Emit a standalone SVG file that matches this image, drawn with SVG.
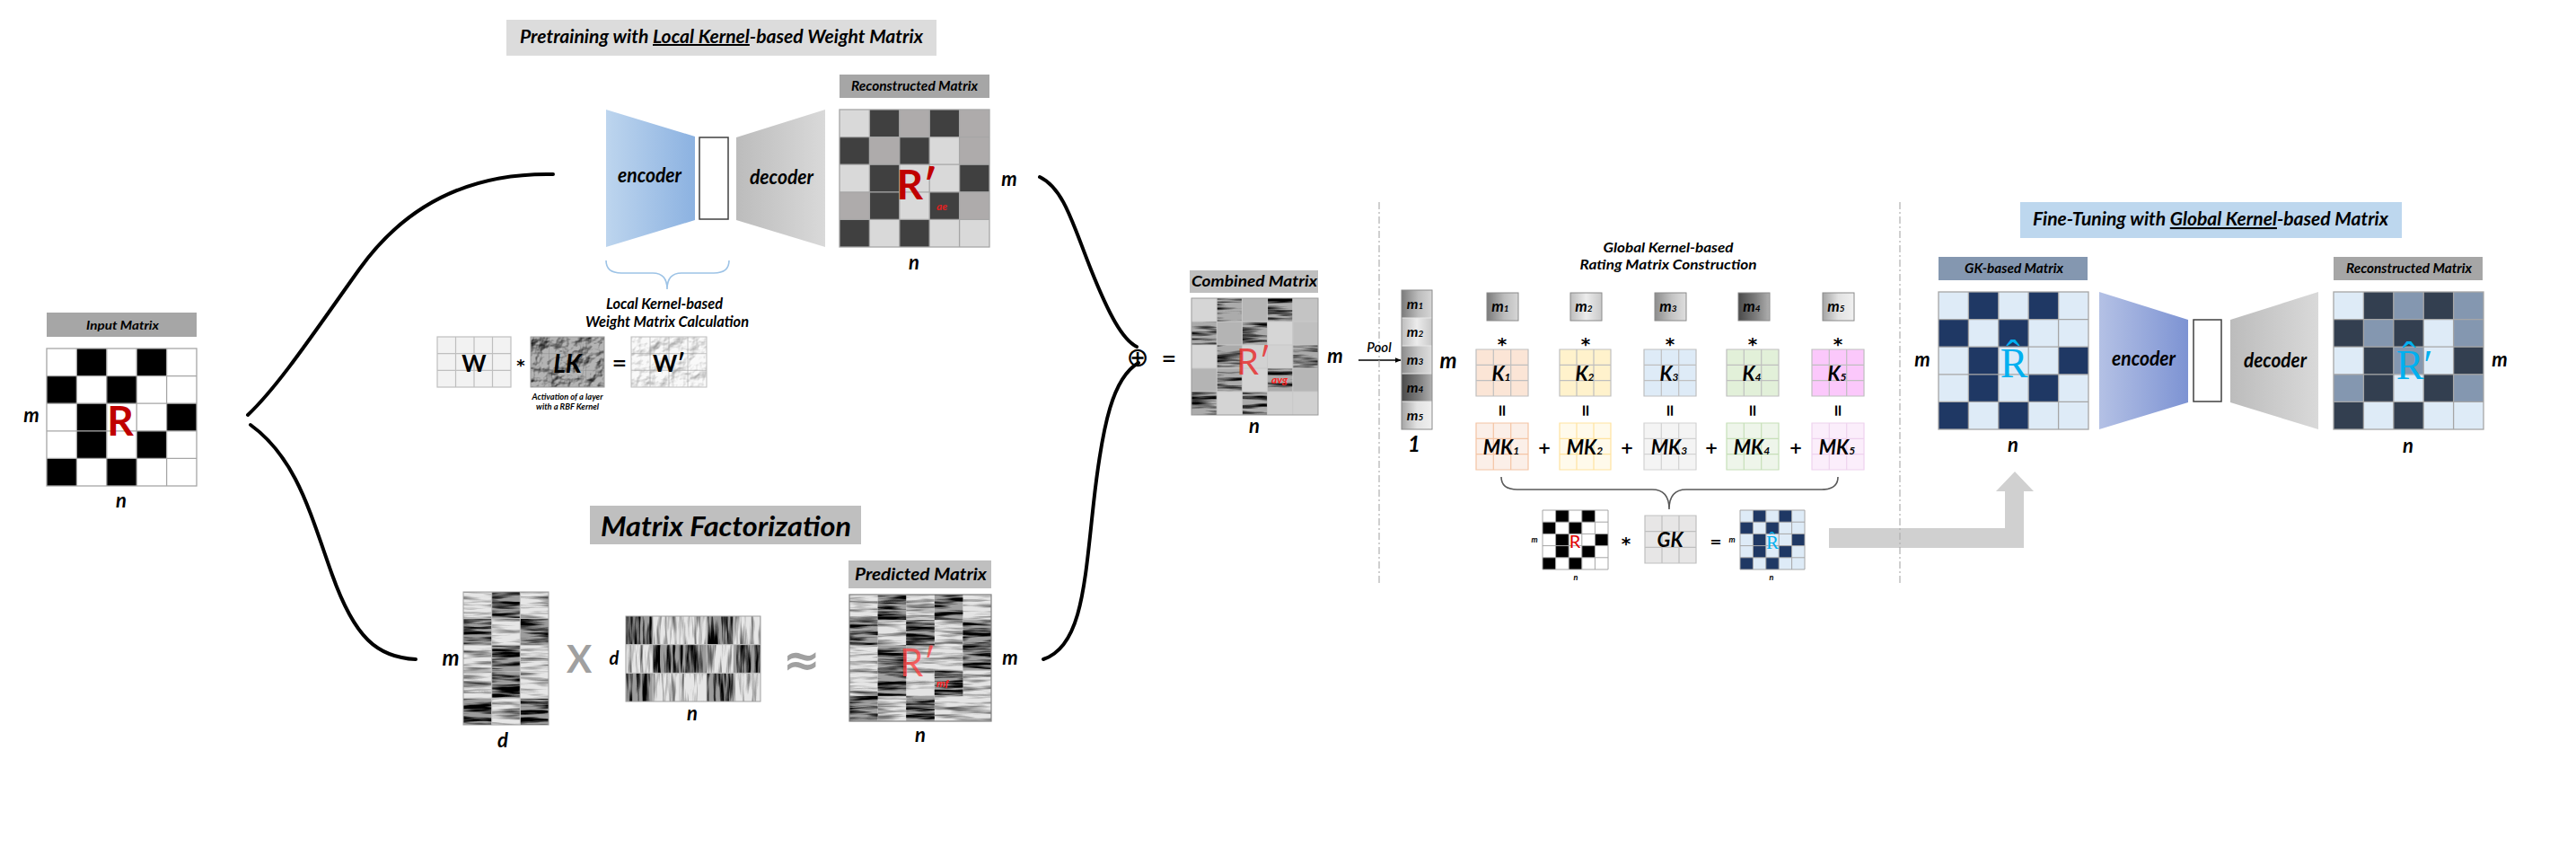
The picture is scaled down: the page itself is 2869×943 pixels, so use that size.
<svg xmlns="http://www.w3.org/2000/svg" width="2869" height="943" viewBox="0 0 2869 943">
<defs>
<style>
text{font-family:Lato,"Liberation Sans",sans-serif;font-weight:bold;font-style:italic;fill:#000;text-anchor:middle}
.up{font-style:normal}
.dim{font-size:22px}
.gl{fill:none;stroke:#a6a6a6;stroke-width:1.3}
.gk{fill:none;stroke:#bfbfbf;stroke-width:1.2}
.cv{fill:none;stroke:#000;stroke-width:4;stroke-linecap:round}
.lab{fill:#a6a6a6}
.labg{fill:#bfbfbf}
.rec{stroke:#8a8a8a;stroke-width:1}
.L1{fill:#d9d9d9}.D1{fill:#404040}.M1{fill:#aeabab}
.L2{fill:#deebf7}.D2{fill:#1f3864}.D3{fill:#333f50}.M3{fill:#8497b0}
.op{font-style:normal;font-family:"DejaVu Sans",sans-serif;font-weight:bold}
.ser{font-style:normal;font-family:"Liberation Serif","DejaVu Serif",serif;font-weight:normal;fill:#00b0f0}
.sub{font-style:italic;font-weight:bold;text-anchor:start}
</style>
<linearGradient id="encA" x1="0" x2="1"><stop offset="0" stop-color="#bdd5ee"/><stop offset="1" stop-color="#8cb2e1"/></linearGradient>
<linearGradient id="encB" x1="0" x2="1"><stop offset="0" stop-color="#b4c1e5"/><stop offset="1" stop-color="#7d93d3"/></linearGradient>
<linearGradient id="dec" x1="0" x2="1"><stop offset="0" stop-color="#bcbcbc"/><stop offset="1" stop-color="#d9d9d9"/></linearGradient>
<linearGradient id="g1" x1="0" x2="1"><stop offset="0" stop-color="#7a7a7a"/><stop offset="0.55" stop-color="#bcbcbc"/><stop offset="1" stop-color="#d6d6d6"/></linearGradient>
<linearGradient id="g2" x1="0" x2="1"><stop offset="0" stop-color="#bdbdbd"/><stop offset="0.5" stop-color="#ececec"/><stop offset="1" stop-color="#c8c8c8"/></linearGradient>
<linearGradient id="g3" x1="0" x2="1"><stop offset="0" stop-color="#8c8c8c"/><stop offset="0.55" stop-color="#c4c4c4"/><stop offset="1" stop-color="#dedede"/></linearGradient>
<linearGradient id="g4" x1="0" x2="1"><stop offset="0" stop-color="#4a4a4a"/><stop offset="0.55" stop-color="#7c7c7c"/><stop offset="1" stop-color="#b0b0b0"/></linearGradient>
<linearGradient id="g5" x1="0" x2="1"><stop offset="0" stop-color="#a4a4a4"/><stop offset="0.5" stop-color="#e2e2e2"/><stop offset="1" stop-color="#f0f0f0"/></linearGradient>
<filter id="nzH" x="0" y="0" width="1" height="1" color-interpolation-filters="sRGB">
<feTurbulence type="fractalNoise" baseFrequency="0.02 0.22" numOctaves="3" seed="5" result="t"/>
<feColorMatrix in="t" type="matrix" values="0 0 0 0 0 0 0 0 0 0 0 0 0 0 0 -3.6 0 0 0 2.2" result="a"/>
<feComposite in="a" in2="SourceGraphic" operator="in" result="d"/>
<feMerge><feMergeNode in="SourceGraphic"/><feMergeNode in="d"/></feMerge>
</filter>
<filter id="nzHc" x="0" y="0" width="1" height="1" color-interpolation-filters="sRGB">
<feTurbulence type="fractalNoise" baseFrequency="0.02 0.22" numOctaves="3" seed="6" result="t"/>
<feColorMatrix in="t" type="matrix" values="0 0 0 0 0 0 0 0 0 0 0 0 0 0 0 -3 0 0 0 1.75" result="a"/>
<feComposite in="a" in2="SourceGraphic" operator="in" result="d"/>
<feMerge><feMergeNode in="SourceGraphic"/><feMergeNode in="d"/></feMerge>
</filter>
<filter id="nzHl" x="0" y="0" width="1" height="1" color-interpolation-filters="sRGB">
<feTurbulence type="fractalNoise" baseFrequency="0.02 0.22" numOctaves="3" seed="8" result="t"/>
<feColorMatrix in="t" type="matrix" values="0 0 0 0 0 0 0 0 0 0 0 0 0 0 0 -1.6 0 0 0 0.9" result="a"/>
<feComposite in="a" in2="SourceGraphic" operator="in" result="d"/>
<feMerge><feMergeNode in="SourceGraphic"/><feMergeNode in="d"/></feMerge>
</filter>
<filter id="nzV" x="0" y="0" width="1" height="1" color-interpolation-filters="sRGB">
<feTurbulence type="fractalNoise" baseFrequency="0.22 0.02" numOctaves="3" seed="3" result="t"/>
<feColorMatrix in="t" type="matrix" values="0 0 0 0 0 0 0 0 0 0 0 0 0 0 0 -3.6 0 0 0 2.2" result="a"/>
<feComposite in="a" in2="SourceGraphic" operator="in" result="d"/>
<feMerge><feMergeNode in="SourceGraphic"/><feMergeNode in="d"/></feMerge>
</filter>
<filter id="nzVl" x="0" y="0" width="1" height="1" color-interpolation-filters="sRGB">
<feTurbulence type="fractalNoise" baseFrequency="0.22 0.02" numOctaves="3" seed="11" result="t"/>
<feColorMatrix in="t" type="matrix" values="0 0 0 0 0 0 0 0 0 0 0 0 0 0 0 -1.6 0 0 0 0.9" result="a"/>
<feComposite in="a" in2="SourceGraphic" operator="in" result="d"/>
<feMerge><feMergeNode in="SourceGraphic"/><feMergeNode in="d"/></feMerge>
</filter>
<filter id="crum" x="0" y="0" width="1" height="1" color-interpolation-filters="sRGB">
<feTurbulence type="fractalNoise" baseFrequency="0.06" numOctaves="4" seed="9" result="t"/>
<feDiffuseLighting in="t" surfaceScale="5" diffuseConstant="1.2" lighting-color="#ffffff" result="l"><feDistantLight azimuth="235" elevation="50"/></feDiffuseLighting>
<feComposite in="l" in2="SourceGraphic" operator="arithmetic" k1="1" k2="0" k3="0" k4="0" result="m"/>
<feComposite in="m" in2="SourceGraphic" operator="in"/>
</filter>
<filter id="crumL" x="0" y="0" width="1" height="1" color-interpolation-filters="sRGB">
<feTurbulence type="fractalNoise" baseFrequency="0.06" numOctaves="4" seed="4" result="t"/>
<feDiffuseLighting in="t" surfaceScale="4" diffuseConstant="1.2" lighting-color="#ffffff" result="l"><feDistantLight azimuth="235" elevation="50"/></feDiffuseLighting>
<feComposite in="l" in2="SourceGraphic" operator="arithmetic" k1="0.45" k2="0" k3="0" k4="0.45" result="m"/>
<feComposite in="m" in2="SourceGraphic" operator="in"/>
</filter>
<marker id="ah" viewBox="0 0 10 10" refX="9" refY="5" markerWidth="7" markerHeight="7" orient="auto" markerUnits="userSpaceOnUse"><path d="M0,1 L10,5 L0,9 Z" fill="#000"/></marker>
</defs>
<rect width="2869" height="943" fill="#fff"/>

<g id="connectors">
<path class="cv" d="M616,194 C520,192 450,230 400,300 C350,370 310,430 276,462"/>
<path class="cv" d="M279,473 C330,510 345,570 370,640 C395,710 420,732 463,734"/>
<path class="cv" d="M1158,197 C1185,210 1195,250 1215,300 C1235,350 1250,378 1266,386"/>
<path class="cv" d="M1268,404 C1240,420 1228,470 1218,560 C1208,650 1205,720 1162,734"/>
<line x1="1513" y1="401" x2="1560" y2="401" stroke="#000" stroke-width="1.4" marker-end="url(#ah)"/>
<polygon points="2037,588 2233,588 2233,547 2223,547 2244,525 2265,547 2254,547 2254,610 2037,610" fill="#d0d0d0"/>
<path d="M675,290 Q675,304 692,304 L727,304 Q743,304 743,322 Q743,304 759,304 L795,304 Q812,304 812,290" fill="none" stroke="#9dc3e6" stroke-width="1.6"/>
<path d="M1672,531 Q1672,545 1690,545 L1840,545 Q1859,545 1859,567 Q1859,545 1878,545 L2029,545 Q2047,545 2047,531" fill="none" stroke="#595959" stroke-width="1.6"/>
<line x1="1536" y1="225" x2="1536" y2="650" stroke="#b0b0b0" stroke-width="1.2" stroke-dasharray="8 3 2 3"/>
<line x1="2116" y1="225" x2="2116" y2="650" stroke="#b0b0b0" stroke-width="1.2" stroke-dasharray="8 3 2 3"/>
</g>

<g id="input-matrix">
<rect class="lab" x="52" y="348" width="167" height="27"/>
<text x="136.5" y="367" font-size="14" textLength="81" lengthAdjust="spacingAndGlyphs">Input Matrix</text>
<rect x="52" y="388" width="167" height="153" fill="#fff"/>
<g fill="#000">
<rect x="85.4" y="388" width="33.4" height="30.6"/><rect x="152.2" y="388" width="33.4" height="30.6"/>
<rect x="52" y="418.6" width="33.4" height="30.6"/><rect x="118.8" y="418.6" width="33.4" height="30.6"/>
<rect x="85.4" y="449.2" width="33.4" height="30.6"/><rect x="185.6" y="449.2" width="33.4" height="30.6"/>
<rect x="85.4" y="479.8" width="33.4" height="30.6"/><rect x="152.2" y="479.8" width="33.4" height="30.6"/>
<rect x="52" y="510.4" width="33.4" height="30.6"/><rect x="118.8" y="510.4" width="33.4" height="30.6"/>
</g>
<path class="gl" d="M85.4,388V541M118.8,388V541M152.2,388V541M185.6,388V541M52,418.6H219M52,449.2H219M52,479.8H219M52,510.4H219"/>
<rect class="gl" x="52" y="388" width="167" height="153"/>
<text class="up" x="134" y="485" font-size="46" style="fill:#c00000">R</text>
<text class="dim" x="35" y="470">m</text>
<text class="dim" x="135" y="565">n</text>
</g>

<g id="pretrain-title">
<rect x="564" y="22" width="479" height="40" fill="#dcdcdc"/>
<text x="803.5" y="48" font-size="20" textLength="449" lengthAdjust="spacingAndGlyphs">Pretraining with <tspan text-decoration="underline">Local Kernel</tspan>-based Weight Matrix</text>
</g>

<g id="autoencoder-top">
<polygon points="675,122 774,152 774,245 675,275" fill="url(#encA)"/>
<text x="723.5" y="203" font-size="22" textLength="71" lengthAdjust="spacingAndGlyphs">encoder</text>
<rect x="779" y="153" width="32" height="91" fill="#fff" stroke="#404040" stroke-width="1.5"/>
<polygon points="820,153 919,122 919,275 820,245" fill="url(#dec)"/>
<text x="870.5" y="205" font-size="22" textLength="71" lengthAdjust="spacingAndGlyphs">decoder</text>
</g>

<g id="recon-top">
<rect class="lab" x="935" y="83" width="167" height="26"/>
<text x="1018.5" y="101" font-size="15" textLength="141" lengthAdjust="spacingAndGlyphs">Reconstructed Matrix</text>
<g>
<rect class="L1" x="935" y="122" width="33.4" height="30.6"/><rect class="D1" x="968.4" y="122" width="33.4" height="30.6"/><rect class="M1" x="1001.8" y="122" width="33.4" height="30.6"/><rect class="D1" x="1035.2" y="122" width="33.4" height="30.6"/><rect class="M1" x="1068.6" y="122" width="33.4" height="30.6"/>
<rect class="D1" x="935" y="152.6" width="33.4" height="30.6"/><rect class="M1" x="968.4" y="152.6" width="33.4" height="30.6"/><rect class="D1" x="1001.8" y="152.6" width="33.4" height="30.6"/><rect class="L1" x="1035.2" y="152.6" width="33.4" height="30.6"/><rect class="M1" x="1068.6" y="152.6" width="33.4" height="30.6"/>
<rect class="L1" x="935" y="183.2" width="33.4" height="30.6"/><rect class="D1" x="968.4" y="183.2" width="33.4" height="30.6"/><rect class="L1" x="1001.8" y="183.2" width="33.4" height="30.6"/><rect class="L1" x="1035.2" y="183.2" width="33.4" height="30.6"/><rect class="D1" x="1068.6" y="183.2" width="33.4" height="30.6"/>
<rect class="M1" x="935" y="213.8" width="33.4" height="30.6"/><rect class="D1" x="968.4" y="213.8" width="33.4" height="30.6"/><rect class="L1" x="1001.8" y="213.8" width="33.4" height="30.6"/><rect class="D1" x="1035.2" y="213.8" width="33.4" height="30.6"/><rect class="M1" x="1068.6" y="213.8" width="33.4" height="30.6"/>
<rect class="D1" x="935" y="244.4" width="33.4" height="30.6"/><rect class="L1" x="968.4" y="244.4" width="33.4" height="30.6"/><rect class="D1" x="1001.8" y="244.4" width="33.4" height="30.6"/><rect class="L1" x="1035.2" y="244.4" width="33.4" height="30.6"/><rect class="L1" x="1068.6" y="244.4" width="33.4" height="30.6"/>
</g>
<path class="gl" d="M968.4,122V275M1001.8,122V275M1035.2,122V275M1068.6,122V275M935,152.6H1102M935,183.2H1102M935,213.8H1102M935,244.4H1102"/>
<rect class="gl" x="935" y="122" width="167" height="153"/>
<text class="up" x="1021" y="222" font-size="46" style="fill:#c00000">R′</text>
<text class="sub" x="1043" y="234" font-size="12" style="fill:#e02020">ae</text>
<text class="dim" x="1124" y="207">m</text>
<text class="dim" x="1018" y="300">n</text>
</g>

<g id="local-kernel">
<text x="740" y="344" font-size="17" textLength="130" lengthAdjust="spacingAndGlyphs">Local Kernel-based</text>
<text x="743" y="364" font-size="17" textLength="182" lengthAdjust="spacingAndGlyphs">Weight Matrix Calculation</text>
<rect x="487" y="375" width="82" height="56" fill="#f2f2f2"/>
<path class="gk" d="M507.5,375V431M528,375V431M548.5,375V431M487,393.7H569M487,412.3H569"/>
<rect class="gk" x="487" y="375" width="82" height="56"/>
<text class="up" x="528" y="414" font-size="26">W</text>
<text class="op" x="580" y="413" font-size="18">*</text>
<rect x="591" y="375" width="82" height="56" fill="#b4b4b4" filter="url(#crum)"/>
<path d="M611.5,375V431M632,375V431M652.5,375V431M591,393.7H673M591,412.3H673" stroke="#777" stroke-opacity="0.35" fill="none"/>
<rect x="591" y="375" width="82" height="56" fill="none" stroke="#9a9a9a"/>
<text x="632" y="415" font-size="28">LK</text>
<text class="op" x="690" y="411" font-size="20">=</text>
<rect x="703" y="375" width="84" height="56" fill="#f2f2f2" filter="url(#crumL)"/>
<path d="M724,375V431M745,375V431M766,375V431M703,393.7H787M703,412.3H787" stroke="#a0a0a0" stroke-opacity="0.6" fill="none"/>
<rect x="703" y="375" width="84" height="56" fill="none" stroke="#bdbdbd"/>
<text class="up" x="745" y="414" font-size="26">W′</text>
<text x="632" y="445" font-size="10" textLength="79" lengthAdjust="spacingAndGlyphs">Activation of a layer</text>
<text x="632" y="456" font-size="10" textLength="70" lengthAdjust="spacingAndGlyphs">with a RBF Kernel</text>
</g>

<g id="matrix-factorization">
<rect class="labg" x="657" y="563" width="302" height="43"/>
<text x="808.5" y="597" font-size="31" textLength="279" lengthAdjust="spacingAndGlyphs">Matrix Factorization</text>
<g filter="url(#nzHl)" fill="#e6e6e6">
<rect x="516" y="659" width="31.7" height="29.6"/><rect x="579.3" y="659" width="31.7" height="29.6"/>
<rect x="547.7" y="688.6" width="31.6" height="29.6"/>
<rect x="516" y="718.2" width="31.7" height="59.2"/><rect x="579.3" y="718.2" width="31.7" height="59.2"/>
<rect x="547.7" y="777.4" width="31.6" height="29.6"/>
</g>
<g filter="url(#nzH)" fill="#9c9c9c">
<rect x="547.7" y="659" width="31.6" height="29.6"/>
<rect x="516" y="688.6" width="31.7" height="29.6"/><rect x="579.3" y="688.6" width="31.7" height="29.6"/>
<rect x="547.7" y="718.2" width="31.6" height="59.2"/>
<rect x="516" y="777.4" width="31.7" height="29.6"/><rect x="579.3" y="777.4" width="31.7" height="29.6"/>
</g>
<path d="M547.7,659V807M579.3,659V807M516,688.6H611M516,718.2H611M516,747.8H611M516,777.4H611" stroke="#c0c0c0" stroke-width="1" fill="none"/>
<rect x="516" y="659" width="95" height="148" fill="none" stroke="#a0a0a0"/>
<text x="502" y="741" font-size="24">m</text>
<text class="dim" x="560" y="832">d</text>
<text class="up" x="645" y="749" font-size="42" style="fill:#a0a0a0">X</text>
<text x="684" y="740" font-size="20">d</text>
<g filter="url(#nzVl)" fill="#e6e6e6">
<rect x="727" y="686" width="60" height="31.67"/><rect x="817" y="686" width="30" height="31.67"/>
<rect x="697" y="717.67" width="30" height="31.66"/><rect x="787" y="717.67" width="30" height="31.66"/>
<rect x="727" y="749.33" width="60" height="31.67"/><rect x="817" y="749.33" width="30" height="31.67"/>
</g>
<g filter="url(#nzV)" fill="#9c9c9c">
<rect x="697" y="686" width="30" height="31.67"/><rect x="787" y="686" width="30" height="31.67"/>
<rect x="727" y="717.67" width="60" height="31.66"/><rect x="817" y="717.67" width="30" height="31.66"/>
<rect x="697" y="749.33" width="30" height="31.67"/><rect x="787" y="749.33" width="30" height="31.67"/>
</g>
<path d="M727,686V781M757,686V781M787,686V781M817,686V781M697,717.67H847M697,749.33H847" stroke="#c0c0c0" stroke-width="1" fill="none"/>
<rect x="697" y="686" width="150" height="95" fill="none" stroke="#a0a0a0"/>
<text class="dim" x="771" y="802">n</text>
<text class="op" x="893" y="752" font-size="50" style="fill:#a0a0a0">≈</text>
</g>

<g id="predicted-matrix">
<rect class="labg" x="945" y="624" width="159" height="31"/>
<text x="1025.5" y="646" font-size="19" textLength="147" lengthAdjust="spacingAndGlyphs">Predicted Matrix</text>
<g filter="url(#nzHl)" fill="#e4e4e4">
<rect x="946" y="662" width="31.6" height="28.2"/><rect x="1009.2" y="662" width="31.6" height="28.2"/><rect x="1072.4" y="662" width="31.6" height="28.2"/>
<rect x="977.6" y="690.2" width="31.6" height="28.2"/><rect x="1040.8" y="690.2" width="31.6" height="28.2"/>
<rect x="946" y="718.4" width="31.6" height="28.2"/><rect x="1009.2" y="718.4" width="63.2" height="28.2"/>
<rect x="946" y="746.6" width="31.6" height="28.2"/><rect x="1009.2" y="746.6" width="31.6" height="28.2"/><rect x="1072.4" y="746.6" width="31.6" height="28.2"/>
<rect x="977.6" y="774.8" width="31.6" height="28.2"/><rect x="1040.8" y="774.8" width="63.2" height="28.2"/>
</g>
<g filter="url(#nzH)" fill="#a0a0a0">
<rect x="977.6" y="662" width="31.6" height="28.2"/><rect x="1040.8" y="662" width="31.6" height="28.2"/>
<rect x="946" y="690.2" width="31.6" height="28.2"/><rect x="1009.2" y="690.2" width="31.6" height="28.2"/><rect x="1072.4" y="690.2" width="31.6" height="28.2"/>
<rect x="977.6" y="718.4" width="31.6" height="28.2"/><rect x="1072.4" y="718.4" width="31.6" height="28.2"/>
<rect x="977.6" y="746.6" width="31.6" height="28.2"/><rect x="1040.8" y="746.6" width="31.6" height="28.2"/>
<rect x="946" y="774.8" width="31.6" height="28.2"/><rect x="1009.2" y="774.8" width="31.6" height="28.2"/>
</g>
<rect x="946" y="662" width="158" height="141" fill="none" stroke="#808080" stroke-width="1.2"/>
<text class="up" x="1022" y="753" font-size="42" style="fill:#ff3b3b;font-weight:normal" fill-opacity="0.75">R′</text>
<text class="sub" x="1043" y="765" font-size="12" style="fill:#ff2020">mf</text>
<text class="dim" x="1125" y="740">m</text>
<text class="dim" x="1025" y="826">n</text>
</g>

<g id="combine-op">
<text class="op" x="1267" y="408" font-size="30" style="font-weight:normal">⊕</text>
<text class="op" x="1302" y="406" font-size="20">=</text>
</g>

<g id="combined-matrix">
<rect class="labg" x="1325" y="301" width="143" height="25"/>
<text x="1397" y="319" font-size="17" textLength="140" lengthAdjust="spacingAndGlyphs">Combined Matrix</text>
<g>
<rect x="1327" y="332" width="141" height="130" fill="#c8c8c8"/>
<rect x="1327" y="332" width="28.2" height="26" fill="#d6d6d6"/><rect x="1383.4" y="332" width="28.2" height="26" fill="#b6b6b6"/><rect x="1439.8" y="332" width="28.2" height="26" fill="#c4c4c4"/>
<rect x="1355.2" y="358" width="28.2" height="26" fill="#b4b4b4"/><rect x="1411.6" y="358" width="28.2" height="26" fill="#d6d6d6"/><rect x="1439.8" y="358" width="28.2" height="26" fill="#c0c0c0"/>
<rect x="1327" y="384" width="28.2" height="26" fill="#d6d6d6"/><rect x="1383.4" y="384" width="56.4" height="26" fill="#d2d2d2"/>
<rect x="1327" y="410" width="28.2" height="26" fill="#b4b4b4"/><rect x="1383.4" y="410" width="28.2" height="26" fill="#d4d4d4"/><rect x="1439.8" y="410" width="28.2" height="26" fill="#b6b6b6"/>
<rect x="1355.2" y="436" width="28.2" height="26" fill="#d4d4d4"/><rect x="1411.6" y="436" width="56.4" height="26" fill="#d0d0d0"/>
</g>
<g filter="url(#nzHc)" fill="#ababab">
<rect x="1355.2" y="332" width="28.2" height="26"/><rect x="1411.6" y="332" width="28.2" height="26"/>
<rect x="1327" y="358" width="28.2" height="26"/><rect x="1383.4" y="358" width="28.2" height="26"/>
<rect x="1355.2" y="384" width="28.2" height="26"/><rect x="1439.8" y="384" width="28.2" height="26"/>
<rect x="1355.2" y="410" width="28.2" height="26"/><rect x="1411.6" y="410" width="28.2" height="26"/>
<rect x="1327" y="436" width="28.2" height="26"/><rect x="1383.4" y="436" width="28.2" height="26"/>
</g>
<path d="M1355.2,332V462M1383.4,332V462M1411.6,332V462M1439.8,332V462M1327,358H1468M1327,384H1468M1327,410H1468M1327,436H1468" stroke="#c8c8c8" stroke-width="1" fill="none"/>
<rect x="1327" y="332" width="141" height="130" fill="none" stroke="#9a9a9a"/>
<text class="up" x="1396" y="417" font-size="40" style="fill:#e83030;font-weight:normal" fill-opacity="0.85">R′</text>
<text class="sub" x="1416" y="427" font-size="12" style="fill:#ff2020">avg</text>
<text class="dim" x="1487" y="404">m</text>
<text class="dim" x="1397" y="482">n</text>
<text x="1536" y="392" font-size="15" style="font-weight:600">Pool</text>
</g>

<g id="pooled-vector">
<rect x="1561" y="323" width="34" height="31" fill="url(#g1)"/>
<rect x="1561" y="354" width="34" height="31" fill="url(#g2)"/>
<rect x="1561" y="385" width="34" height="31" fill="url(#g3)"/>
<rect x="1561" y="416" width="34" height="31" fill="url(#g4)"/>
<rect x="1561" y="447" width="34" height="31" fill="url(#g5)"/>
<path d="M1561,354H1595M1561,385H1595M1561,416H1595M1561,447H1595" stroke="#e8e8e8" stroke-width="1.2"/>
<rect x="1561" y="323" width="34" height="155" fill="none" stroke="#8a8a8a"/>
<text x="1576" y="344" font-size="16">m<tspan font-size="10">1</tspan></text>
<text x="1576" y="375" font-size="16">m<tspan font-size="10">2</tspan></text>
<text x="1576" y="406" font-size="16">m<tspan font-size="10">3</tspan></text>
<text x="1576" y="437" font-size="16">m<tspan font-size="10">4</tspan></text>
<text x="1576" y="468" font-size="16">m<tspan font-size="10">5</tspan></text>
<text x="1613" y="410" font-size="24">m</text>
<text x="1575" y="503" font-size="24">1</text>
</g>

<g id="global-kernel">
<text x="1858" y="281" font-size="16" textLength="145" lengthAdjust="spacingAndGlyphs">Global Kernel-based</text>
<text x="1858" y="300" font-size="16" textLength="197" lengthAdjust="spacingAndGlyphs">Rating Matrix Construction</text>
<g class="rec">
<rect x="1656" y="326" width="35" height="31" fill="url(#g1)"/>
<rect x="1749" y="326" width="35" height="31" fill="url(#g2)"/>
<rect x="1843" y="326" width="35" height="31" fill="url(#g3)"/>
<rect x="1936" y="326" width="35" height="31" fill="url(#g4)"/>
<rect x="2030" y="326" width="35" height="31" fill="url(#g5)"/>
</g>
<text x="1671" y="347" font-size="17">m<tspan font-size="10">1</tspan></text>
<text x="1764" y="347" font-size="17">m<tspan font-size="10">2</tspan></text>
<text x="1858" y="347" font-size="17">m<tspan font-size="10">3</tspan></text>
<text x="1951" y="347" font-size="17">m<tspan font-size="10">4</tspan></text>
<text x="2045" y="347" font-size="17">m<tspan font-size="10">5</tspan></text>
<text class="op" x="1673" y="390" font-size="20">*</text><text class="op" x="1766" y="390" font-size="20">*</text><text class="op" x="1860" y="390" font-size="20">*</text><text class="op" x="1952" y="390" font-size="20">*</text><text class="op" x="2047" y="390" font-size="20">*</text>
<rect x="1644" y="389" width="58" height="52" fill="#fbe5d6"/>
<rect x="1737" y="389" width="57" height="52" fill="#fff2cc"/>
<rect x="1831" y="389" width="58" height="52" fill="#deebf7"/>
<rect x="1923" y="389" width="58" height="52" fill="#e2f0d9"/>
<rect x="2018" y="389" width="58" height="52" fill="#fbc8fb"/>
<path class="gk" d="M1644,389h58v52h-58zM1663.3,389v52M1682.7,389v52M1644,406.3h58M1644,423.7h58
M1737,389h57v52h-57zM1756,389v52M1775,389v52M1737,406.3h57M1737,423.7h57
M1831,389h58v52h-58zM1850.3,389v52M1869.7,389v52M1831,406.3h58M1831,423.7h58
M1923,389h58v52h-58zM1942.3,389v52M1961.7,389v52M1923,406.3h58M1923,423.7h58
M2018,389h58v52h-58zM2037.3,389v52M2056.7,389v52M2018,406.3h58M2018,423.7h58"/>
<text x="1672" y="424" font-size="22">K<tspan font-size="12">1</tspan></text>
<text x="1765" y="424" font-size="22">K<tspan font-size="12">2</tspan></text>
<text x="1859" y="424" font-size="22">K<tspan font-size="12">3</tspan></text>
<text x="1951" y="424" font-size="22">K<tspan font-size="12">4</tspan></text>
<text x="2046" y="424" font-size="22">K<tspan font-size="12">5</tspan></text>
<text class="op" transform="translate(1673,457) rotate(90)" x="0" y="6" font-size="18">=</text>
<text class="op" transform="translate(1766,457) rotate(90)" x="0" y="6" font-size="18">=</text>
<text class="op" transform="translate(1860,457) rotate(90)" x="0" y="6" font-size="18">=</text>
<text class="op" transform="translate(1952,457) rotate(90)" x="0" y="6" font-size="18">=</text>
<text class="op" transform="translate(2047,457) rotate(90)" x="0" y="6" font-size="18">=</text>
<rect x="1644" y="471" width="58" height="52" fill="#fbefe8"/>
<rect x="1737" y="471" width="57" height="52" fill="#fffaeb"/>
<rect x="1831" y="471" width="58" height="52" fill="#f4f4f4"/>
<rect x="1923" y="471" width="58" height="52" fill="#eef5ea"/>
<rect x="2018" y="471" width="58" height="52" fill="#fbeefb"/>
<path fill="none" stroke="#f4c4a4" stroke-width="1.2" d="M1644,471h58v52h-58zM1663.3,471v52M1682.7,471v52M1644,488.3h58M1644,505.7h58"/>
<path fill="none" stroke="#ffe3a0" stroke-width="1.2" d="M1737,471h57v52h-57zM1756,471v52M1775,471v52M1737,488.3h57M1737,505.7h57"/>
<path fill="none" stroke="#d2d2d2" stroke-width="1.2" d="M1831,471h58v52h-58zM1850.3,471v52M1869.7,471v52M1831,488.3h58M1831,505.7h58"/>
<path fill="none" stroke="#c6dfb8" stroke-width="1.2" d="M1923,471h58v52h-58zM1942.3,471v52M1961.7,471v52M1923,488.3h58M1923,505.7h58"/>
<path fill="none" stroke="#eed2ee" stroke-width="1.2" d="M2018,471h58v52h-58zM2037.3,471v52M2056.7,471v52M2018,488.3h58M2018,505.7h58"/>
<text x="1672" y="506" font-size="22">MK<tspan font-size="12">1</tspan></text>
<text x="1765" y="506" font-size="22">MK<tspan font-size="12">2</tspan></text>
<text x="1859" y="506" font-size="22">MK<tspan font-size="12">3</tspan></text>
<text x="1951" y="506" font-size="22">MK<tspan font-size="12">4</tspan></text>
<text x="2046" y="506" font-size="22">MK<tspan font-size="12">5</tspan></text>
<text class="op" x="1720" y="505" font-size="18">+</text>
<text class="op" x="1812" y="505" font-size="18">+</text>
<text class="op" x="1906" y="505" font-size="18">+</text>
<text class="op" x="2000" y="505" font-size="18">+</text>
</g>

<g id="gk-product">
<rect x="1718" y="568" width="73" height="66" fill="#fff"/>
<g fill="#000">
<rect x="1732.6" y="568" width="14.6" height="13.2"/><rect x="1761.8" y="568" width="14.6" height="13.2"/>
<rect x="1718" y="581.2" width="14.6" height="13.2"/><rect x="1747.2" y="581.2" width="14.6" height="13.2"/>
<rect x="1732.6" y="594.4" width="14.6" height="13.2"/><rect x="1776.4" y="594.4" width="14.6" height="13.2"/>
<rect x="1732.6" y="607.6" width="14.6" height="13.2"/><rect x="1761.8" y="607.6" width="14.6" height="13.2"/>
<rect x="1718" y="620.8" width="14.6" height="13.2"/><rect x="1747.2" y="620.8" width="14.6" height="13.2"/>
</g>
<path fill="none" stroke="#a6a6a6" stroke-width="1" d="M1718,568h73v66h-73zM1732.6,568v66M1747.2,568v66M1761.8,568v66M1776.4,568v66M1718,581.2h73M1718,594.4h73M1718,607.6h73M1718,620.8h73"/>
<text class="up" x="1754" y="610" font-size="20" style="fill:#e00000;font-weight:normal">R</text>
<text x="1709" y="604" font-size="9">m</text>
<text x="1755" y="646" font-size="9">n</text>
<text class="op" x="1811" y="612" font-size="20">*</text>
<rect x="1832" y="574" width="57" height="53" fill="#e7e6e6"/>
<path class="gk" d="M1832,574h57v53h-57zM1851,574v53M1870,574v53M1832,591.7h57M1832,609.3h57"/>
<text x="1860" y="609" font-size="22">GK</text>
<text class="op" x="1911" y="608" font-size="16">=</text>
<text x="1929" y="604" font-size="9">m</text>
<rect x="1938" y="568" width="72" height="66" fill="#deebf7"/>
<g fill="#1f3864">
<rect x="1952.4" y="568" width="14.4" height="13.2"/><rect x="1981.2" y="568" width="14.4" height="13.2"/>
<rect x="1938" y="581.2" width="14.4" height="13.2"/><rect x="1966.8" y="581.2" width="14.4" height="13.2"/>
<rect x="1952.4" y="594.4" width="14.4" height="13.2"/><rect x="1995.6" y="594.4" width="14.4" height="13.2"/>
<rect x="1952.4" y="607.6" width="14.4" height="13.2"/><rect x="1981.2" y="607.6" width="14.4" height="13.2"/>
<rect x="1938" y="620.8" width="14.4" height="13.2"/><rect x="1966.8" y="620.8" width="14.4" height="13.2"/>
</g>
<path fill="none" stroke="#a6a6a6" stroke-width="1" d="M1938,568h72v66h-72zM1952.4,568v66M1966.8,568v66M1981.2,568v66M1995.6,568v66M1938,581.2h72M1938,594.4h72M1938,607.6h72M1938,620.8h72"/>
<text class="ser" x="1974" y="611" font-size="21">R̂</text>
<text x="1973" y="646" font-size="9">n</text>
</g>

<g id="finetune-title">
<rect x="2250" y="225" width="425" height="40" fill="#bdd7ee"/>
<text x="2462" y="251" font-size="21" textLength="396" lengthAdjust="spacingAndGlyphs">Fine-Tuning with <tspan text-decoration="underline">Global Kernel</tspan>-based Matrix</text>
</g>

<g id="gk-matrix">
<rect x="2159" y="286" width="166" height="26" fill="#8497b0"/>
<text x="2243" y="304" font-size="15" textLength="110" lengthAdjust="spacingAndGlyphs">GK-based Matrix</text>
<rect x="2159" y="325" width="167" height="153" fill="#deebf7"/>
<g fill="#1f3864">
<rect x="2192.4" y="325" width="33.4" height="30.6"/><rect x="2259.2" y="325" width="33.4" height="30.6"/>
<rect x="2159" y="355.6" width="33.4" height="30.6"/><rect x="2225.8" y="355.6" width="33.4" height="30.6"/>
<rect x="2192.4" y="386.2" width="33.4" height="30.6"/><rect x="2292.6" y="386.2" width="33.4" height="30.6"/>
<rect x="2192.4" y="416.8" width="33.4" height="30.6"/><rect x="2259.2" y="416.8" width="33.4" height="30.6"/>
<rect x="2159" y="447.4" width="33.4" height="30.6"/><rect x="2225.8" y="447.4" width="33.4" height="30.6"/>
</g>
<path class="gl" d="M2192.4,325V478M2225.8,325V478M2259.2,325V478M2292.6,325V478M2159,355.6H2326M2159,386.2H2326M2159,416.8H2326M2159,447.4H2326"/>
<rect class="gl" x="2159" y="325" width="167" height="153"/>
<text class="ser" x="2243" y="420" font-size="46">R̂</text>
<text class="dim" x="2141" y="408">m</text>
<text class="dim" x="2242" y="503">n</text>
</g>

<g id="autoencoder-right">
<polygon points="2338,325 2437,356 2437,448 2338,478" fill="url(#encB)"/>
<text x="2387.5" y="407" font-size="22" textLength="71" lengthAdjust="spacingAndGlyphs">encoder</text>
<rect x="2443" y="356" width="31" height="91" fill="#fff" stroke="#404040" stroke-width="1.5"/>
<polygon points="2484,356 2582,325 2582,478 2484,448" fill="url(#dec)"/>
<text x="2534" y="409" font-size="22" textLength="70" lengthAdjust="spacingAndGlyphs">decoder</text>
</g>

<g id="recon-right">
<rect class="lab" x="2599" y="286" width="166" height="26"/>
<text x="2683" y="304" font-size="15" textLength="140" lengthAdjust="spacingAndGlyphs">Reconstructed Matrix</text>
<g>
<rect class="L2" x="2599" y="325" width="33.4" height="30.6"/><rect class="D3" x="2632.4" y="325" width="33.4" height="30.6"/><rect class="M3" x="2665.8" y="325" width="33.4" height="30.6"/><rect class="D3" x="2699.2" y="325" width="33.4" height="30.6"/><rect class="M3" x="2732.6" y="325" width="33.4" height="30.6"/>
<rect class="D3" x="2599" y="355.6" width="33.4" height="30.6"/><rect class="M3" x="2632.4" y="355.6" width="33.4" height="30.6"/><rect class="D3" x="2665.8" y="355.6" width="33.4" height="30.6"/><rect class="L2" x="2699.2" y="355.6" width="33.4" height="30.6"/><rect class="M3" x="2732.6" y="355.6" width="33.4" height="30.6"/>
<rect class="L2" x="2599" y="386.2" width="33.4" height="30.6"/><rect class="D3" x="2632.4" y="386.2" width="33.4" height="30.6"/><rect class="M3" x="2665.8" y="386.2" width="33.4" height="30.6"/><rect class="L2" x="2699.2" y="386.2" width="33.4" height="30.6"/><rect class="D3" x="2732.6" y="386.2" width="33.4" height="30.6"/>
<rect class="M3" x="2599" y="416.8" width="33.4" height="30.6"/><rect class="D3" x="2632.4" y="416.8" width="33.4" height="30.6"/><rect class="L2" x="2665.8" y="416.8" width="33.4" height="30.6"/><rect class="D3" x="2699.2" y="416.8" width="33.4" height="30.6"/><rect class="M3" x="2732.6" y="416.8" width="33.4" height="30.6"/>
<rect class="D3" x="2599" y="447.4" width="33.4" height="30.6"/><rect class="L2" x="2632.4" y="447.4" width="33.4" height="30.6"/><rect class="D3" x="2665.8" y="447.4" width="33.4" height="30.6"/><rect class="L2" x="2699.2" y="447.4" width="33.4" height="30.6"/><rect class="L2" x="2732.6" y="447.4" width="33.4" height="30.6"/>
</g>
<path class="gl" d="M2632.4,325V478M2665.8,325V478M2699.2,325V478M2732.6,325V478M2599,355.6H2766M2599,386.2H2766M2599,416.8H2766M2599,447.4H2766"/>
<rect class="gl" x="2599" y="325" width="167" height="153"/>
<text class="ser" x="2689" y="422" font-size="46">R̂′</text>
<text class="dim" x="2784" y="408">m</text>
<text class="dim" x="2682" y="504">n</text>
</g>
</svg>
